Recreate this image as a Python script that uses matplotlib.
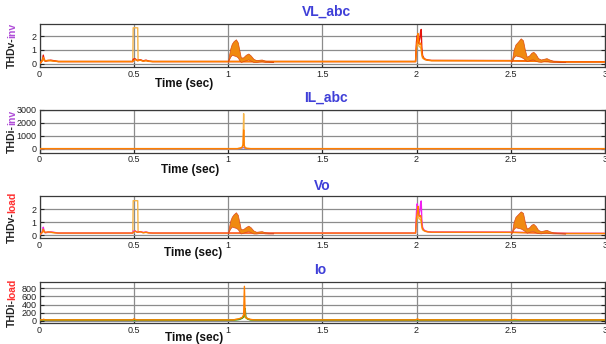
import numpy as np
import matplotlib
matplotlib.use("Agg")
import matplotlib.pyplot as plt

plt.rcParams['font.family'] = ['Liberation Sans', 'DejaVu Sans']

# ---------------- VL_abc (inverter voltage THD, three phases) ----------------
vl_t = [0.000, 0.008, 0.016, 0.020, 0.024, 0.030, 0.045, 0.060, 0.080, 0.100,
        0.495, 0.497, 0.499, 0.508, 0.515, 0.521, 0.523, 0.535, 0.550, 0.565,
        0.580, 0.600, 0.995, 1.250, 1.995, 2.000, 2.004, 2.008, 2.012, 2.018,
        2.022, 2.025, 2.028, 2.032, 2.038, 2.046, 2.060, 2.080, 2.495, 2.800, 3.000]
vl_a = [0.00, 0.10, 0.30, 0.62, 0.35, 0.18, 0.22, 0.25, 0.20, 0.15,
        0.15, 0.30, 0.33, 0.35, 0.25, 0.22, 0.24, 0.28, 0.20, 0.25,
        0.18, 0.15, 0.15, 0.15, 0.15, 1.60, 2.05, 1.80, 1.50, 1.90,
        2.35, 2.50, 1.20, 0.60, 0.42, 0.32, 0.26, 0.23, 0.22, 0.13, 0.13]
vl_b = [0.00, 0.12, 0.25, 0.45, 0.30, 0.20, 0.24, 0.22, 0.18, 0.15,
        0.15, 0.20, 0.22, 0.30, 0.24, 0.20, 0.22, 0.26, 0.18, 0.22,
        0.17, 0.15, 0.15, 0.15, 0.15, 1.30, 1.70, 2.20, 1.60, 1.40,
        1.50, 1.30, 0.80, 0.50, 0.38, 0.30, 0.25, 0.22, 0.21, 0.12, 0.12]
vl_c = [0.00, 0.10, 0.20, 0.30, 0.25, 0.18, 0.20, 0.20, 0.17, 0.15,
        0.15, 2.62, 2.62, 2.62, 2.62, 2.62, 0.22, 0.24, 0.18, 0.20,
        0.16, 0.15, 0.15, 0.15, 0.15, 1.10, 1.40, 1.60, 1.30, 1.20,
        1.20, 1.00, 0.60, 0.40, 0.34, 0.28, 0.24, 0.21, 0.20, 0.12, 0.12]

# oscillating transients after the load steps at 1.0 s and 2.5 s (envelopes)
bump1_t = [1.000, 1.005, 1.012, 1.020, 1.030, 1.042, 1.052, 1.060, 1.068, 1.080,
           1.095, 1.108, 1.120, 1.135, 1.150, 1.165, 1.179, 1.195, 1.215, 1.240]
bump1_hi = [0.15, 0.60, 1.10, 1.45, 1.65, 1.78, 1.55, 1.00, 0.45, 0.45,
            0.65, 0.74, 0.60, 0.35, 0.25, 0.28, 0.30, 0.22, 0.17, 0.15]
bump1_lo = [0.15, 0.30, 0.50, 0.65, 0.60, 0.55, 0.45, 0.25, 0.12, 0.18,
            0.25, 0.30, 0.22, 0.12, 0.12, 0.15, 0.17, 0.13, 0.12, 0.12]
bump2_t = [2.500, 2.508, 2.515, 2.525, 2.538, 2.553, 2.565, 2.575, 2.585, 2.598,
           2.610, 2.620, 2.632, 2.645, 2.660, 2.675, 2.690, 2.705, 2.725, 2.760, 2.790]
bump2_hi = [0.12, 0.40, 1.00, 1.40, 1.60, 1.85, 1.70, 1.00, 0.50, 0.60,
            0.80, 0.86, 0.70, 0.40, 0.30, 0.35, 0.40, 0.30, 0.20, 0.15, 0.12]
bump2_lo = [0.12, 0.20, 0.45, 0.60, 0.55, 0.50, 0.40, 0.30, 0.18, 0.25,
            0.30, 0.30, 0.20, 0.15, 0.13, 0.18, 0.20, 0.15, 0.13, 0.12, 0.12]

# ---------------- IL_abc (inverter current THD) ----------------
il_t = [0.000, 0.498, 0.502, 0.506, 1.050, 1.065, 1.075, 1.080, 1.083, 1.086,
        1.090, 1.100, 1.120, 3.000]
il_a = [20, 20, 20, 20, 20, 60, 120, 300, 1450, 250, 90, 40, 20, 20]
il_b = [20, 20, 20, 20, 20, 60, 120, 400, 2700, 300, 100, 40, 20, 20]
il_c = [0, 0, 30, 0, 0, 30, 60, 80, 120, 80, 40, 20, 0, 0]

# ---------------- Vo (load voltage THD) ----------------
vo_a = [0.00, 0.10, 0.30, 0.60, 0.35, 0.18, 0.22, 0.24, 0.20, 0.15,
        0.15, 0.28, 0.30, 0.32, 0.24, 0.22, 0.24, 0.26, 0.20, 0.23,
        0.18, 0.15, 0.15, 0.15, 0.15, 1.80, 2.40, 1.90, 1.50, 1.90,
        2.45, 2.62, 1.20, 0.60, 0.42, 0.32, 0.26, 0.23, 0.22, 0.13, 0.13]
vo_b = vl_b
vo_c = [0.00, 0.10, 0.20, 0.30, 0.25, 0.18, 0.20, 0.20, 0.17, 0.15,
        0.15, 2.64, 2.64, 2.64, 2.64, 2.64, 0.22, 0.24, 0.18, 0.20,
        0.16, 0.15, 0.15, 0.15, 0.15, 1.10, 1.40, 1.60, 1.30, 1.20,
        1.20, 1.00, 0.60, 0.40, 0.34, 0.28, 0.24, 0.21, 0.20, 0.12, 0.12]
vo_b1_hi = [0.15, 0.60, 1.10, 1.40, 1.60, 1.75, 1.55, 1.00, 0.45, 0.45,
            0.62, 0.72, 0.60, 0.35, 0.25, 0.28, 0.30, 0.22, 0.17, 0.15]
vo_b2_hi = [0.12, 0.40, 1.00, 1.40, 1.60, 1.82, 1.70, 1.00, 0.50, 0.60,
            0.80, 0.86, 0.70, 0.40, 0.30, 0.35, 0.40, 0.30, 0.20, 0.15, 0.12]

# ---------------- Io (load current THD) ----------------
io_t = [0.000, 0.015, 0.022, 0.030, 0.495, 0.500, 0.506, 0.515, 1.030, 1.060,
        1.075, 1.083, 1.087, 1.091, 1.095, 1.105, 1.120, 1.140, 1.995, 2.005,
        2.015, 2.500, 2.520, 2.560, 3.000]
io_a = [20, 20, 35, 20, 20, 45, 35, 20, 20, 50, 80, 150, 850, 150, 80, 50, 30, 20,
        20, 40, 20, 20, 30, 20, 20]
io_b = [15, 15, 20, 15, 15, 20, 18, 15, 15, 30, 60, 100, 160, 300, 90, 40, 20, 15,
        15, 25, 15, 15, 18, 15, 15]
io_c = [20, 20, 25, 20, 20, 25, 22, 20, 20, 40, 70, 90, 120, 100, 70, 40, 25, 20,
        20, 30, 20, 20, 22, 20, 20]

x_ticks = [0, 0.5, 1, 1.5, 2, 2.5, 3]
x_ticklabels = ['0', '0.5', '1', '1.5', '2', '2.5', '3']

titles = ['VL_abc', 'IL_abc', 'Vo', 'Io']
ylab_main = ['THDv-', 'THDi-', 'THDv-', 'THDi-']
ylab_tail = ['inv', 'inv', 'load', 'load']

W, H = 606, 344
fig = plt.figure(figsize=(W / 100, H / 100), dpi=100)

# panel boxes in pixels: (top, bottom)
boxes = [(24, 67), (109.7, 152.7), (196, 238.3), (282.3, 323.3)]
ylims = [(-0.25, 2.9), (-290, 3000), (-0.25, 3.0), (-64, 950)]
yticks = [[0, 1, 2], [0, 1000, 2000, 3000], [0, 1, 2], [0, 200, 400, 600, 800]]
title_pos = [(326, 12), (326, 98), (322, 186), (320, 270)]
xlab_pos = [(184, 84), (190, 170), (193, 253), (194, 338)]
left_px, right_px = 39.5, 605

RED = '#e5140c'
ORANGE = '#ff7f00'
YELLOW = '#f6b54a'
MAGENTA = '#f020f0'
BAND = '#f08a10'
TITLE_C = '#3f3fd8'
tail_colors = {'inv': '#b04ed8', 'load': '#ff3030'}

axes = []
for i, (top, bot) in enumerate(boxes):
    ax = fig.add_axes([left_px / W, 1 - bot / H, (right_px - left_px) / W, (bot - top) / H])
    ax.set_xlim(0, 3)
    ax.set_ylim(*ylims[i])
    ax.set_xticks(x_ticks)
    ax.set_xticklabels(x_ticklabels)
    ax.set_yticks(yticks[i])
    ax.tick_params(direction='in', length=3, width=0.8, labelsize=6.5, pad=2,
                   right=True, top=False, colors='#222222')
    ax.grid(True, color='#8c8c8c', linewidth=0.9)
    ax.set_axisbelow(True)
    for sp in ax.spines.values():
        sp.set_color('#3a3a3a')
        sp.set_linewidth(0.9)
    axes.append(ax)

    fig.text(title_pos[i][0] / W, 1 - title_pos[i][1] / H, titles[i], color=TITLE_C,
             fontsize=10, fontweight='bold', ha='center', va='center')
    fig.text(xlab_pos[i][0] / W, 1 - xlab_pos[i][1] / H, 'Time (sec)', color='#111111',
             fontsize=8.5, fontweight='bold', ha='center', va='center')

# VL_abc
ax = axes[0]
ax.plot(vl_t, vl_c, color=YELLOW, lw=1.0, zorder=3)
ax.plot(vl_t, vl_a, color=RED, lw=1.0, zorder=3)
ax.plot(vl_t, vl_b, color=ORANGE, lw=1.0, zorder=4)
for bt, hi, lo in [(bump1_t, bump1_hi, bump1_lo), (bump2_t, bump2_hi, bump2_lo)]:
    ax.fill_between(bt, lo, hi, facecolor=BAND, edgecolor='#dc4a10', lw=0.5, zorder=5)

# IL_abc
ax = axes[1]
ax.plot(il_t, il_c, color='#9a6ae0', lw=0.8, zorder=3)
ax.plot(il_t, il_b, color=YELLOW, lw=1.0, zorder=3)
ax.plot(il_t, il_a, color=ORANGE, lw=1.0, zorder=4)

# Vo
ax = axes[2]
ax.plot(vl_t, vo_c, color=YELLOW, lw=1.0, zorder=3)
ax.plot(vl_t, vo_a, color=MAGENTA, lw=1.0, zorder=3)
ax.plot(vl_t, vo_b, color=ORANGE, lw=1.0, zorder=4)
for bt, hi, lo in [(bump1_t, vo_b1_hi, bump1_lo), (bump2_t, vo_b2_hi, bump2_lo)]:
    ax.fill_between(bt, lo, hi, facecolor=BAND, edgecolor='#dc4a20', lw=0.5, zorder=5)

# Io
ax = axes[3]
ax.plot(io_t, io_c, color='#c8c400', lw=1.2, zorder=3)
ax.plot(io_t, io_b, color='#2ca02c', lw=1.0, zorder=4)
ax.plot(io_t, io_a, color=ORANGE, lw=1.0, zorder=5)

# two-colour rotated y-labels
renderer = fig.canvas.get_renderer()
for i, (top, bot) in enumerate(boxes):
    yc = 1 - (top + bot) / 2 / H
    t1 = fig.text(12 / W, 0, ylab_main[i], rotation=90, fontsize=7.5, fontweight='bold',
                  color='#222222', ha='center', va='bottom')
    t2 = fig.text(12 / W, 0, ylab_tail[i], rotation=90, fontsize=7.5, fontweight='bold',
                  color=tail_colors[ylab_tail[i]], ha='center', va='bottom')
    h1 = t1.get_window_extent(renderer).height / H
    h2 = t2.get_window_extent(renderer).height / H
    y0 = yc - (h1 + h2) / 2
    t1.set_y(y0)
    t2.set_y(y0 + h1)

fig.savefig('out.png', dpi=100)
